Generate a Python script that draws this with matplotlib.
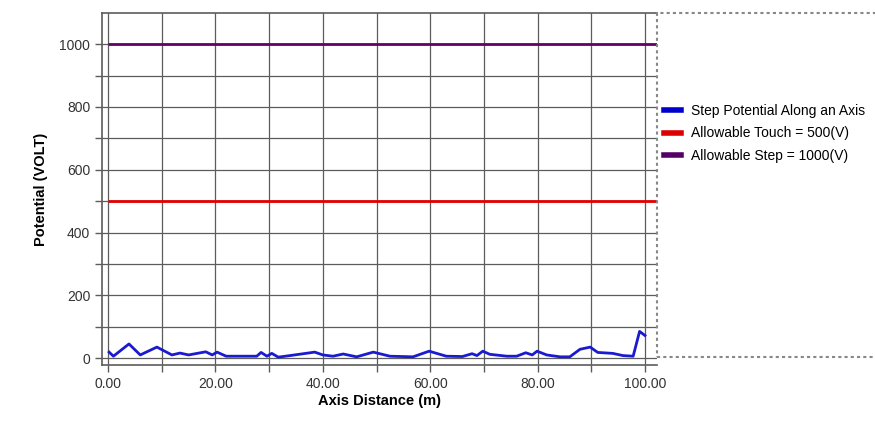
# Step potential along an axis vs allowable limits
import numpy as np
import matplotlib.pyplot as plt
from matplotlib.patches import Rectangle

plt.rcParams['font.family'] = ['Liberation Sans', 'DejaVu Sans']

# data ~~~~~~~~~~~~~~~~~~~~~~~~~~~~~~~~~~~~~~~~~~~~~~~~~~~~~~~~~~~~~~~~~~
distance = [0.2, 1.0, 3.9, 6.0, 9.1, 11.9, 13.4, 15.0, 18.2, 19.4, 20.3,
            22.0, 27.7, 28.5, 29.6, 30.5, 31.7, 33.9, 38.5, 40.0, 41.9,
            43.8, 46.3, 49.4, 52.5, 56.8, 59.8, 63.0, 66.0, 67.8, 68.7,
            69.8, 71.1, 74.3, 76.1, 77.8, 79.0, 79.9, 81.7, 84.2, 86.0,
            87.9, 89.8, 91.2, 94.0, 95.9, 97.8, 99.0, 100.0]
step_potential = [19, 6, 45, 10, 35, 10, 16, 10, 20, 10, 19,
                  6, 6, 18, 6, 15, 3, 8, 19, 10, 6,
                  13, 4, 19, 6, 4, 22, 6, 5, 14, 8,
                  22, 12, 6, 6, 17, 10, 22, 10, 4, 4,
                  28, 35, 18, 15, 8, 6, 85, 72]
allowable_touch = 500
allowable_step = 1000

labels = ['Step Potential Along an Axis',
          'Allowable Touch = 500(V)',
          'Allowable Step = 1000(V)']
x_ticks = [0, 20, 40, 60, 80, 100]
y_ticks = [0, 200, 400, 600, 800, 1000]

# figure ~~~~~~~~~~~~~~~~~~~~~~~~~~~~~~~~~~~~~~~~~~~~~~~~~~~~~~~~~~~~~~~~
fig = plt.figure(figsize=(8.75, 4.25), dpi=100)
ax = fig.add_axes([0.1166, 0.1412, 0.634, 0.828])
xmin, xmax = -1.12, 102.2
ax.set_xlim(xmin, xmax)
ax.set_ylim(-22, 1099)

grid_c = '#5c5c5c'
ax.set_xticks(x_ticks)
ax.set_xticks(np.arange(10, 100, 20), minor=True)
ax.set_yticks(y_ticks)
ax.set_yticks(np.arange(100, 1000, 200), minor=True)
ax.set_xticklabels([f'{v:.2f}' for v in x_ticks])
ax.grid(True, which='both', color=grid_c, lw=0.9)
ax.set_axisbelow(True)
ax.tick_params(which='both', direction='out', length=5, width=1,
               color=grid_c, labelsize=10, labelcolor='#333333')

for side in ['left', 'bottom', 'top']:
    ax.spines[side].set_color(grid_c)
    ax.spines[side].set_linewidth(1.2)
ax.spines['right'].set_visible(False)

ax.plot(distance, step_potential, color='#1a1ad0', lw=2,
        solid_joinstyle='round')
ax.hlines(allowable_touch, 0, xmax, color='#e00000', lw=2)
ax.hlines(allowable_step, 0, xmax, color='#660066', lw=2)

ax.set_xlabel('Axis Distance (m)', fontsize=10.5, fontweight='bold',
              labelpad=2)
ax.set_ylabel('Potential (VOLT)', fontsize=10.5, fontweight='bold',
              labelpad=8)

# dotted box round the legend area
fig.add_artist(Rectangle((657 / 875, 1 - 357 / 425), 0.3, (357 - 13) / 425,
                         transform=fig.transFigure, fill=False,
                         ls=(0, (1.5, 1.5)), ec='#888888', lw=1.5,
                         clip_on=False))

proxies = [plt.Line2D([], [], color=c, lw=4)
           for c in ['#0000cc', '#dd0000', '#550066']]
fig.legend(proxies, labels, loc='upper left',
           bbox_to_anchor=(0.759, 0.755), frameon=False, fontsize=10,
           handlelength=1.2, handletextpad=0.7, labelspacing=0.6,
           borderpad=0, borderaxespad=0)

fig.savefig('out.png', dpi=100)
